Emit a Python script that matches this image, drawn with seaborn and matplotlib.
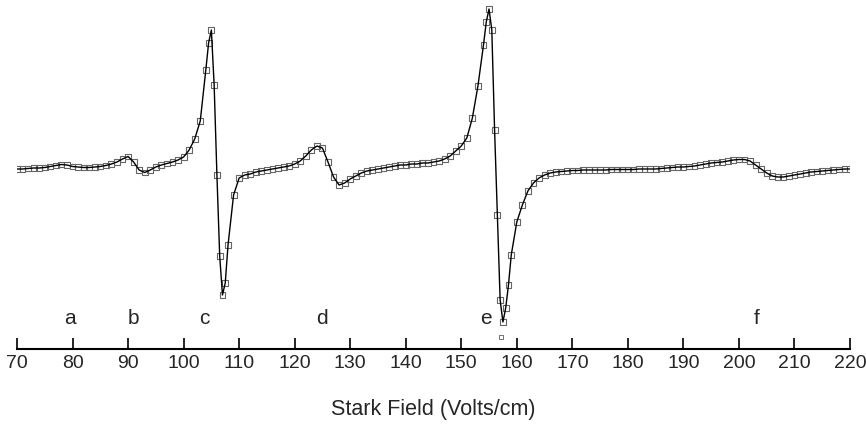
import numpy as np
import pandas as pd
import matplotlib
matplotlib.use('Agg')
import matplotlib.pyplot as plt
import seaborn as sns
from matplotlib import font_manager

# Stark field (V/cm) and signal (arbitrary units)
field = [70, 71, 72, 73, 74, 75, 76, 77, 78, 79, 80, 81, 82, 83, 84, 85, 86, 87, 88, 89,
         90, 91, 92, 93, 94, 95, 96, 97, 98, 99, 100, 101, 102, 103, 104, 104.5, 105, 105.5,
         106, 106.5, 107, 107.5, 108, 109, 110, 111, 112, 113, 114, 115, 116, 117, 118, 119,
         120, 121, 122, 123, 124, 125, 126, 127, 128, 129, 130, 131, 132, 133, 134, 135, 136,
         137, 138, 139, 140, 141, 142, 143, 144, 145, 146, 147, 148, 149, 150, 151, 152, 153,
         154, 154.5, 155, 155.5, 156, 156.5, 157, 157.5, 158, 158.5, 159, 160, 161, 162, 163,
         164, 165, 166, 167, 168, 169, 170, 171, 172, 173, 174, 175, 176, 177, 178, 179, 180,
         181, 182, 183, 184, 185, 186, 187, 188, 189, 190, 191, 192, 193, 194, 195, 196, 197,
         198, 199, 200, 201, 202, 203, 204, 205, 206, 207, 208, 209, 210, 211, 212, 213, 214,
         215, 216, 217, 218, 219, 220]
signal = [0.0, 0.0, 0.05, 0.1, 0.1, 0.15, 0.25, 0.35, 0.45, 0.4, 0.25, 0.2, 0.15, 0.15, 0.2,
          0.25, 0.35, 0.5, 0.7, 1.0, 1.25, 0.7, -0.1, -0.35, -0.1, 0.2, 0.4, 0.55, 0.7, 0.9,
          1.2, 1.9, 3.0, 4.8, 9.9, 12.6, 13.9, 8.4, -0.6, -8.7, -12.6, -11.4, -7.6, -2.6, -0.9,
          -0.6, -0.5, -0.3, -0.2, -0.1, 0.0, 0.1, 0.2, 0.3, 0.5, 0.8, 1.3, 1.9, 2.3, 2.1, 0.7,
          -0.8, -1.6, -1.4, -1.0, -0.7, -0.4, -0.2, -0.1, 0.0, 0.1, 0.2, 0.3, 0.4, 0.4, 0.5,
          0.5, 0.6, 0.6, 0.7, 0.8, 1.0, 1.3, 1.8, 2.3, 3.1, 5.1, 8.3, 12.4, 14.7, 16.0, 13.9,
          3.9, -4.6, -13.1, -15.3, -13.9, -11.6, -8.6, -5.3, -3.6, -2.2, -1.4, -0.9, -0.6,
          -0.4, -0.3, -0.25, -0.2, -0.15, -0.15, -0.1, -0.1, -0.1, -0.1, -0.1, -0.05, -0.05,
          -0.05, -0.05, -0.05, 0.0, 0.0, 0.0, 0.0, 0.05, 0.1, 0.15, 0.2, 0.2, 0.25, 0.3, 0.4,
          0.5, 0.6, 0.65, 0.7, 0.8, 0.9, 0.95, 0.95, 0.8, 0.4, 0.0, -0.4, -0.7, -0.8, -0.8,
          -0.7, -0.6, -0.5, -0.4, -0.3, -0.25, -0.2, -0.15, -0.1, -0.05, 0.0, 0.0]

# stray data point below line e
stray_field = [157.2]
stray_signal = [-16.8]

peak_labels = ['a', 'b', 'c', 'd', 'e', 'f']
peak_pos = [79.5, 90.9, 103.7, 124.9, 154.5, 203.1]
tick_vals = list(range(70, 221, 10))

trace = pd.DataFrame({'field': field, 'signal': signal})
stray = pd.DataFrame({'field': stray_field, 'signal': stray_signal})

sns.set_style('white')
plt.rcParams['font.family'] = ['Liberation Sans', 'DejaVu Sans']

# condensed face for the tick numbers if it is there
names = {f.name for f in font_manager.fontManager.ttflist}
tick_font = 'Liberation Sans Narrow' if 'Liberation Sans Narrow' in names else 'Liberation Sans'

fig = plt.figure(figsize=(8.66, 4.34), dpi=100)
ax = fig.add_axes([17 / 866, 85 / 434, 833 / 866, 349 / 434])

sns.scatterplot(data=trace, x='field', y='signal', marker='s', s=18,
                facecolor='none', edgecolor='0.4', linewidth=0.8, ax=ax, zorder=2)
sns.scatterplot(data=stray, x='field', y='signal', marker='s', s=10,
                facecolor='none', edgecolor='0.45', linewidth=0.7, ax=ax, zorder=2)
sns.lineplot(data=trace, x='field', y='signal', color='black', linewidth=1.0, ax=ax, zorder=3)

for lab, pos in zip(peak_labels, peak_pos):
    ax.text(pos, -14.9, lab, fontsize=15, ha='center', va='center')

ax.set_xlim(70, 220)
ax.set_ylim(-18.0, 16.9)
ax.set_xticks(tick_vals)
ax.set_xticklabels([str(t) for t in tick_vals], fontsize=14, family=tick_font)
ax.set_yticks([])
ax.set_ylabel('')
ax.set_xlabel('Stark Field (Volts/cm)', fontsize=15.5, labelpad=20)
for side in ['left', 'right', 'top']:
    ax.spines[side].set_visible(False)
ax.spines['bottom'].set_linewidth(1.5)
ax.spines['bottom'].set_color('black')
ax.tick_params(axis='x', direction='in', length=8, width=1.2, color='black', pad=4,
               bottom=True)
ax.patch.set_alpha(0)

plt.savefig('out.png', dpi=100)
